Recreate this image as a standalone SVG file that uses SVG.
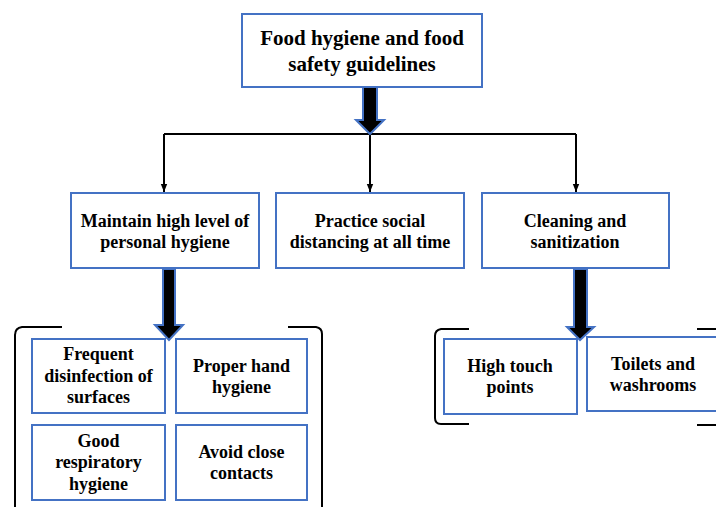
<svg xmlns="http://www.w3.org/2000/svg" width="716" height="507" viewBox="0 0 716 507">
<defs>
<style>
.box{fill:#fff;stroke:#4472C4;stroke-width:2}
text{font-family:'Liberation Serif','Times New Roman','DejaVu Serif',serif;font-weight:bold;font-size:18px;fill:#000;text-anchor:middle}
.title{font-size:21px}
.line{fill:none;stroke:#000;stroke-width:2}
.fat{fill:#000;stroke:#4472C4;stroke-width:2;stroke-linejoin:miter}
.br{fill:none;stroke:#000;stroke-width:2}
</style>
<marker id="ah2" viewBox="0 0 10 10" refX="10" refY="5" markerWidth="8" markerHeight="8" orient="auto" markerUnits="userSpaceOnUse">
<path d="M0,1 L10,5 L0,9 z" fill="#000"/>
</marker>
</defs>

<g id="connectors">
<path class="line" d="M164,134 L576,134"/>
<path class="line" d="M164,134 L164,192" marker-end="url(#ah2)"/>
<path class="line" d="M370,134 L370,192" marker-end="url(#ah2)"/>
<path class="line" d="M576,134 L576,192" marker-end="url(#ah2)"/>
<polygon class="fat" points="363,87 377,87 377,120 384,120 370,134 356,120 363,120"/>
<polygon class="fat" points="163,269 175,269 175,325 183,325 169,340 155,325 163,325"/>
<polygon class="fat" points="574,269 587,269 587,327 594,327 580,340 567,327 574,327"/>
</g>

<g id="brackets">
<path class="br" d="M62,327 L22,327 Q15,328 15,335 L15,510"/>
<path class="br" d="M288,327 L316,327 Q322,328 322,334 L322,510"/>
<path class="br" d="M469,329 L441,329 Q435,330 435,336 L435,418 Q435,424 441,424 L469,424"/>
<path class="br" d="M697,329 L718,329"/>
<path class="br" d="M697,425 L718,425"/>
</g>

<g id="n0">
<rect class="box" x="242" y="14" width="240" height="73"/>
<text class="title" x="362" y="45">Food hygiene and food</text>
<text class="title" x="362" y="71">safety guidelines</text>
</g>

<g id="n1">
<rect class="box" x="71" y="193" width="188" height="75"/>
<text x="165" y="226.5">Maintain high level of</text>
<text x="165" y="247.5">personal hygiene</text>
</g>
<g id="n2">
<rect class="box" x="276" y="193" width="188" height="75"/>
<text x="370" y="226.5">Practice social</text>
<text x="370" y="247.5">distancing at all time</text>
</g>
<g id="n3">
<rect class="box" x="482" y="193" width="187" height="75"/>
<text x="575" y="226.5">Cleaning and</text>
<text x="575" y="247.5">sanitization</text>
</g>

<g id="n4">
<rect class="box" x="32" y="339" width="133" height="74"/>
<text x="98.5" y="360">Frequent</text>
<text x="98.5" y="381.5">disinfection of</text>
<text x="98.5" y="403">surfaces</text>
</g>
<g id="n5">
<rect class="box" x="176" y="339" width="131" height="74"/>
<text x="241.5" y="371.5">Proper hand</text>
<text x="241.5" y="392.5">hygiene</text>
</g>
<g id="n6">
<rect class="box" x="32" y="425" width="133" height="75"/>
<text x="98.5" y="446.5">Good</text>
<text x="98.5" y="468">respiratory</text>
<text x="98.5" y="489.5">hygiene</text>
</g>
<g id="n7">
<rect class="box" x="176" y="425" width="131" height="75"/>
<text x="241.5" y="458">Avoid close</text>
<text x="241.5" y="478.5">contacts</text>
</g>

<g id="n8">
<rect class="box" x="444" y="339" width="133" height="75"/>
<text x="510" y="371.5">High touch</text>
<text x="510" y="392.5">points</text>
</g>
<g id="n9">
<rect class="box" x="587" y="337" width="135" height="74"/>
<text x="653" y="370">Toilets and</text>
<text x="653" y="391">washrooms</text>
</g>
</svg>
